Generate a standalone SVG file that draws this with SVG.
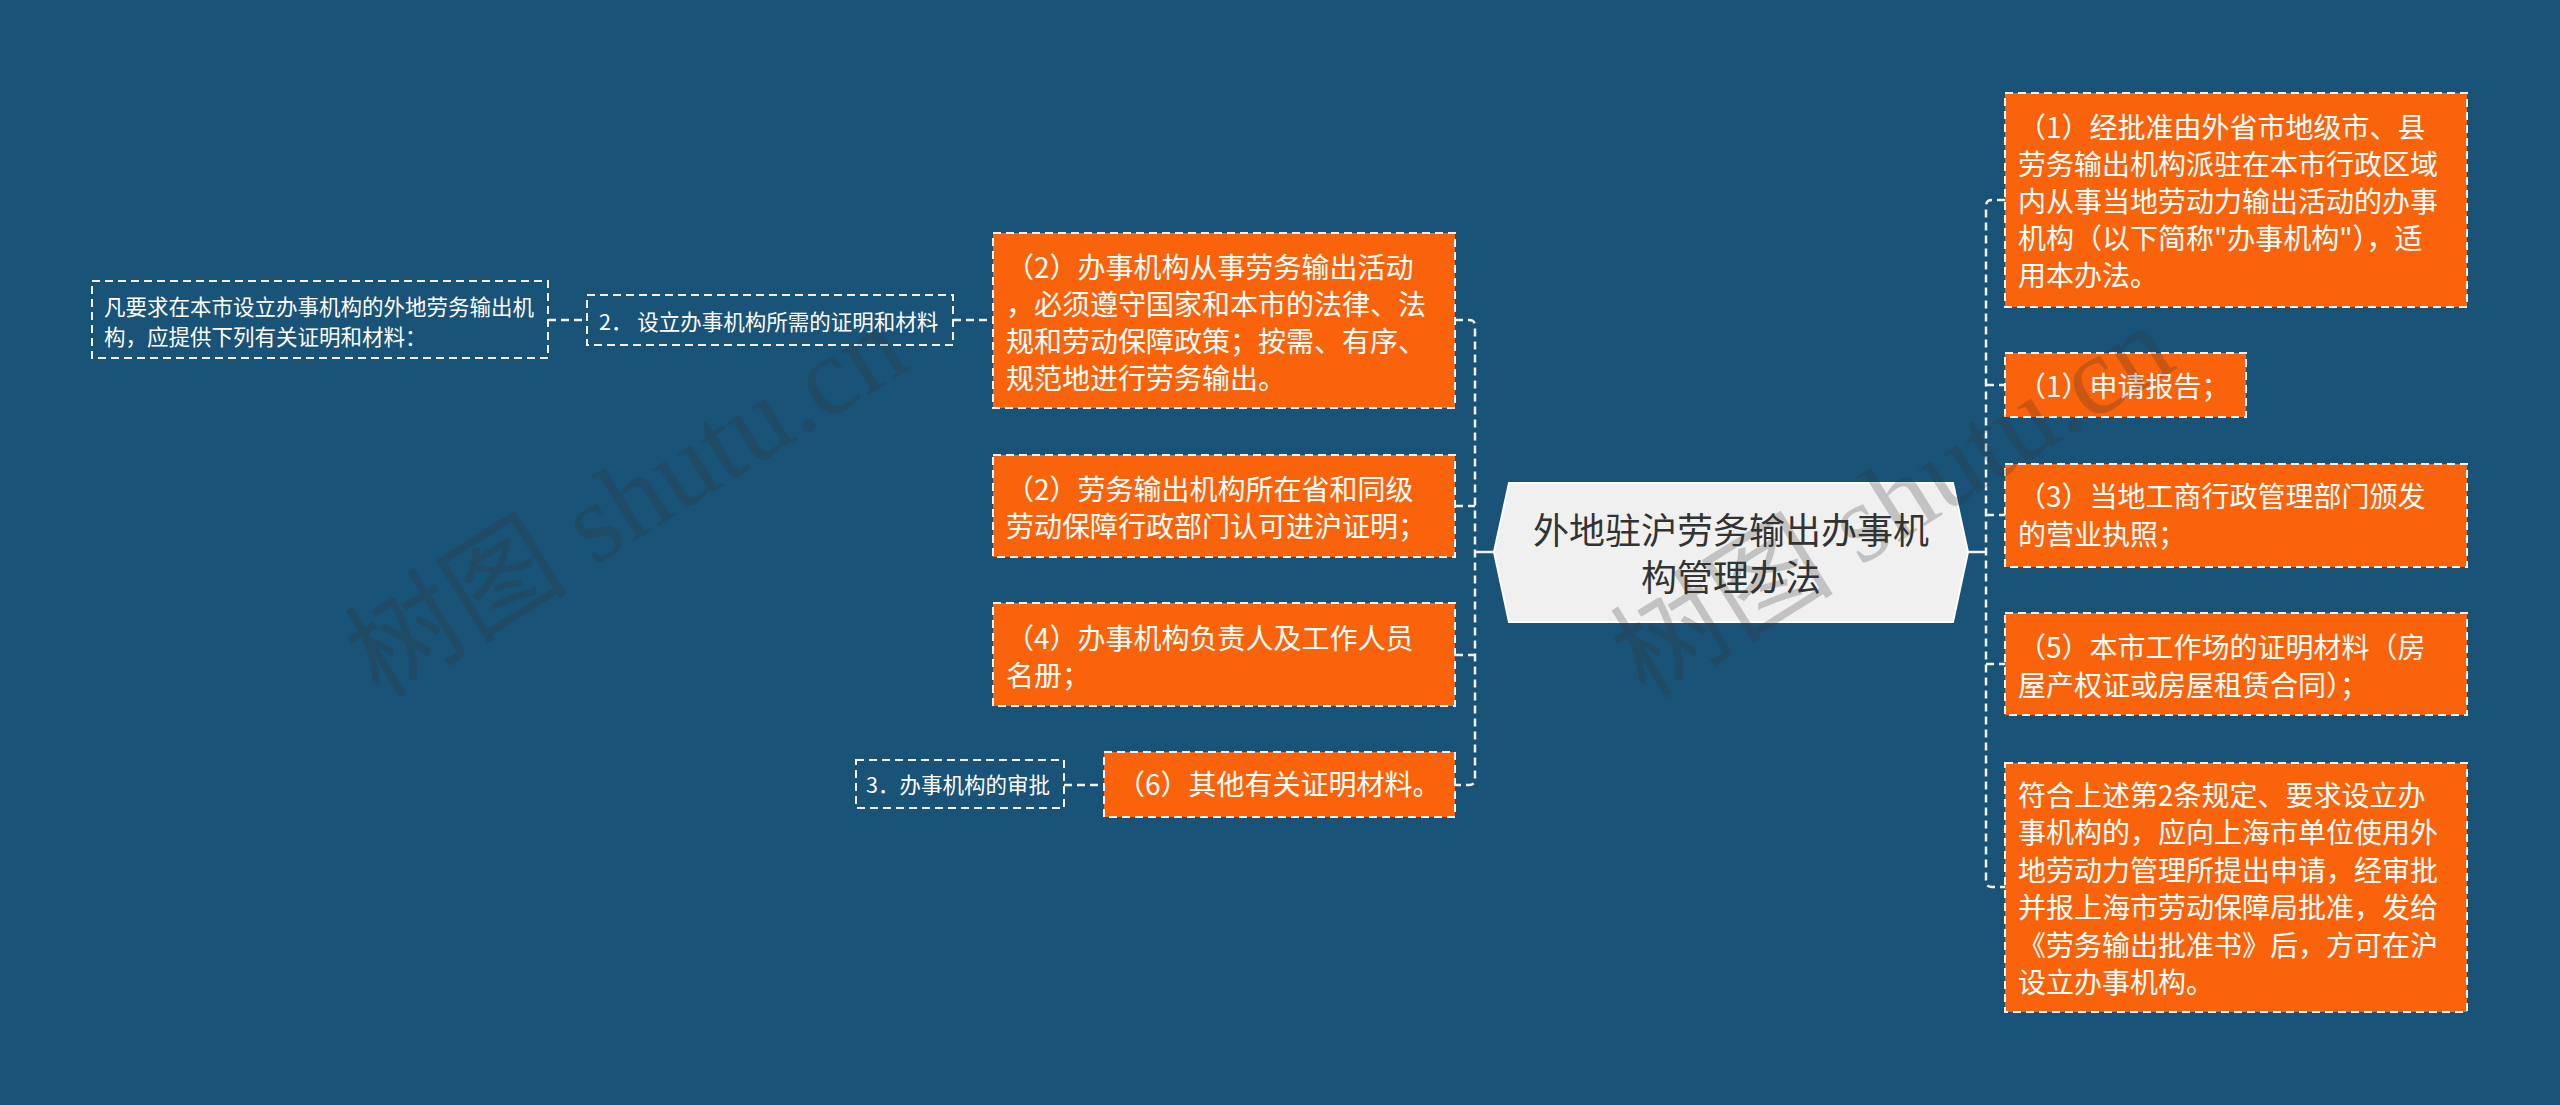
<svg xmlns="http://www.w3.org/2000/svg" width="2560" height="1105" viewBox="0 0 2560 1105">
<style>
.t{font-family:"Noto Sans CJK SC","Noto Sans",sans-serif;}
.ob{fill:#f9630b;stroke:#f2f2f2;stroke-width:2;stroke-dasharray:8 5;}
.sb{fill:none;stroke:#f2f2f2;stroke-width:2;stroke-dasharray:8 5;}
.ot{font-size:28px;fill:#ffffff;}
.st{font-size:21.5px;fill:#ffffff;}
.ct{font-size:36px;fill:#333333;text-anchor:middle;}
.cn{fill:none;stroke:#f2f2f2;stroke-width:2.5;stroke-dasharray:8 5;}
.cs{fill:none;stroke:#f2f2f2;stroke-width:2.5;}
.wm{font-family:"Liberation Serif","Noto Sans CJK SC",serif;font-size:112px;fill:#333333;fill-opacity:0.24;}
</style>
<rect x="0" y="0" width="2560" height="1105" fill="#1a5378"/>

<g id="connectors">
  <path class="cn" d="M548 320 H587"/>
  <path class="cn" d="M953 320 H993"/>
  <path class="cn" d="M1064 785 H1104"/>
  <path class="cs" d="M1494 552 H1475"/>
  <path class="cn" d="M1455 320 H1469 Q1475 320 1475 326 V779 Q1475 785 1469 785 H1455"/>
  <path class="cn" d="M1455 506 H1475"/>
  <path class="cn" d="M1455 655 H1475"/>
  <path class="cs" d="M1968 552 H1986"/>
  <path class="cn" d="M2005 200 H1992 Q1986 200 1986 206 V881 Q1986 887 1992 887 H2005"/>
  <path class="cn" d="M1986 385 H2005"/>
  <path class="cn" d="M1986 515 H2005"/>
  <path class="cn" d="M1986 664 H2005"/>
</g>

<g id="root">
  <polygon points="1494,552 1509,483 1953,483 1968,552 1953,622 1509,622" fill="#f0f0f0" stroke="#ffffff" stroke-width="2"/>
  <text class="t ct" x="1731" y="544">外地驻沪劳务输出办事机</text>
  <text class="t ct" x="1731" y="591">构管理办法</text>
</g>

<g id="n-left-intro">
  <rect class="sb" x="92" y="281" width="456" height="77"/>
  <text class="t st" x="104" y="315">凡要求在本市设立办事机构的外地劳务输出机</text>
  <text class="t st" x="104" y="345">构，应提供下列有关证明和材料：</text>
</g>

<g id="n-sec2">
  <rect class="sb" x="587" y="295" width="366" height="50"/>
  <text class="t st" x="599" y="330">2． 设立办事机构所需的证明和材料</text>
</g>

<g id="n-sec3">
  <rect class="sb" x="856" y="760" width="208" height="48"/>
  <text class="t st" x="866" y="793">3．办事机构的审批</text>
</g>

<g id="n-a">
  <rect class="ob" x="993" y="233" width="462" height="175"/>
  <text class="t ot" x="1006" y="277.5">（2）办事机构从事劳务输出活动</text>
  <text class="t ot" x="1006" y="314.5">，必须遵守国家和本市的法律、法</text>
  <text class="t ot" x="1006" y="351.5">规和劳动保障政策；按需、有序、</text>
  <text class="t ot" x="1006" y="388.5">规范地进行劳务输出。</text>
</g>

<g id="n-b">
  <rect class="ob" x="993" y="455" width="462" height="102"/>
  <text class="t ot" x="1006" y="500">（2）劳务输出机构所在省和同级</text>
  <text class="t ot" x="1006" y="537">劳动保障行政部门认可进沪证明；</text>
</g>

<g id="n-c">
  <rect class="ob" x="993" y="603" width="462" height="103"/>
  <text class="t ot" x="1006" y="648.5">（4）办事机构负责人及工作人员</text>
  <text class="t ot" x="1006" y="685.5">名册；</text>
</g>

<g id="n-d">
  <rect class="ob" x="1104" y="752" width="351" height="65"/>
  <text class="t ot" x="1117" y="795">（6）其他有关证明材料。</text>
</g>

<g id="n-r1">
  <rect class="ob" x="2005" y="93" width="462" height="214"/>
  <text class="t ot" x="2018" y="137.5">（1）经批准由外省市地级市、县</text>
  <text class="t ot" x="2018" y="174.5">劳务输出机构派驻在本市行政区域</text>
  <text class="t ot" x="2018" y="211.5">内从事当地劳动力输出活动的办事</text>
  <text class="t ot" x="2018" y="248.5">机构（以下简称"办事机构"），适</text>
  <text class="t ot" x="2018" y="285.5">用本办法。</text>
</g>

<g id="n-r2">
  <rect class="ob" x="2005" y="353" width="241" height="64"/>
  <text class="t ot" x="2018" y="397">（1）申请报告；</text>
</g>

<g id="n-r3">
  <rect class="ob" x="2005" y="464" width="462" height="103"/>
  <text class="t ot" x="2018" y="507">（3）当地工商行政管理部门颁发</text>
  <text class="t ot" x="2018" y="545">的营业执照；</text>
</g>

<g id="n-r4">
  <rect class="ob" x="2005" y="613" width="462" height="102"/>
  <text class="t ot" x="2018" y="657.5">（5）本市工作场的证明材料（房</text>
  <text class="t ot" x="2018" y="695.5">屋产权证或房屋租赁合同）；</text>
</g>

<g id="n-r5">
  <rect class="ob" x="2005" y="763" width="462" height="249"/>
  <text class="t ot" x="2018" y="805.5">符合上述第2条规定、要求设立办</text>
  <text class="t ot" x="2018" y="843">事机构的，应向上海市单位使用外</text>
  <text class="t ot" x="2018" y="880.5">地劳动力管理所提出申请，经审批</text>
  <text class="t ot" x="2018" y="918">并报上海市劳动保障局批准，发给</text>
  <text class="t ot" x="2018" y="955.5">《劳务输出批准书》后，方可在沪</text>
  <text class="t ot" x="2018" y="993">设立办事机构。</text>
</g>

<g id="watermarks">
  <text class="wm" transform="translate(380,700) rotate(-32)">树图 shutu.cn</text>
  <text class="wm" transform="translate(1646,700) rotate(-32)">树图 shutu.cn</text>
</g>
</svg>
